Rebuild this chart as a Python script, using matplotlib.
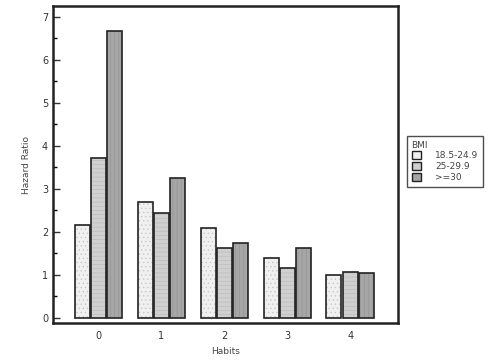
import matplotlib
matplotlib.use("Agg")
import matplotlib.pyplot as plt
import numpy as np
from matplotlib.ticker import MultipleLocator
from matplotlib.patches import Patch

habits = ["0", "1", "2", "3", "4"]
series_names = ["18.5-24.9", "25-29.9", ">=30"]
bmi_normal = [2.17, 2.69, 2.10, 1.38, 1.00]
bmi_over = [3.71, 2.44, 1.62, 1.15, 1.07]
bmi_obese = [6.67, 3.25, 1.75, 1.63, 1.04]

plt.rcParams['hatch.linewidth'] = 0.5

colors = ["#f0f0f0", "#d0d0d0", "#a6a6a6"]
hatch_cols = ["#c8c8c8", "#bdbdbd", "#959595"]
hatches = ["....", "----", "||||"]

fig = plt.figure(figsize=(5.0, 3.6), dpi=100)
ax = fig.add_axes([53/500, 1-323/360, (398-53)/500, (323-6)/360])

x = np.arange(len(habits))
w = 0.238
off = 0.257
handles = []
for i, vals in enumerate([bmi_normal, bmi_over, bmi_obese]):
    ax.bar(x + (i-1)*off, vals, width=w, color=colors[i], edgecolor=hatch_cols[i],
           linewidth=0, hatch=hatches[i])
    ax.bar(x + (i-1)*off, vals, width=w, facecolor="none", edgecolor="#222222",
           linewidth=1.2)
    handles.append(Patch(facecolor=colors[i], edgecolor="#222222", linewidth=1.0,
                         label=series_names[i]))

ax.set_xlim(-0.72, 4.76)
ax.set_ylim(-0.12, 7.25)
ax.set_xticks(x)
ax.set_xticklabels(habits)
ax.yaxis.set_major_locator(MultipleLocator(1))
ax.yaxis.set_minor_locator(MultipleLocator(0.5))
ax.tick_params(axis="y", which="major", direction="in", length=5, width=1, labelsize=7, colors="#333333")
ax.tick_params(axis="y", which="minor", direction="in", length=3, width=1)
ax.tick_params(axis="x", length=0, labelsize=7, colors="#333333", pad=6)
for s in ax.spines.values():
    s.set_linewidth(1.8)
    s.set_color("#222222")

ax.set_ylabel("Hazard Ratio", fontsize=6.5, color="#444444", labelpad=8)
ax.set_xlabel("Habits", fontsize=6.5, color="#444444", labelpad=4)

leg = ax.legend(handles=handles, title="BMI", loc="upper left",
                bbox_to_anchor=(407/500, 1-136/360),
                bbox_transform=fig.transFigure, fontsize=6.5, title_fontsize=6.5,
                frameon=True, fancybox=False, edgecolor="#222222",
                handlelength=1.0, handleheight=1.0, handletextpad=1.6,
                borderpad=0.5, labelspacing=0.2, borderaxespad=0)
leg._legend_box.align = "left"
leg.get_frame().set_linewidth(1.0)
for t in leg.get_texts():
    t.set_color("#444444")
leg.get_title().set_color("#444444")

fig.savefig("out.png", dpi=100)
